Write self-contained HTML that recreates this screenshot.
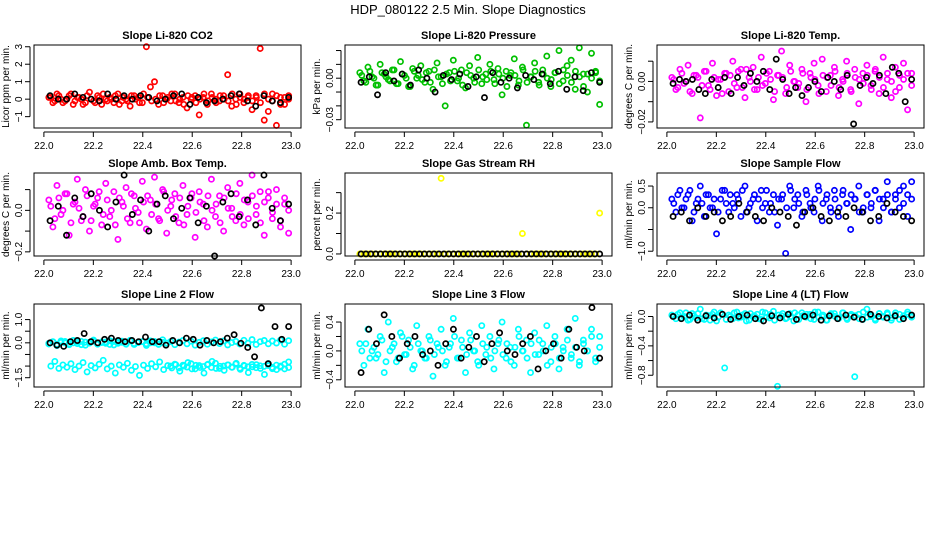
<!DOCTYPE html>
<html><head><meta charset="utf-8"><style>
body{margin:0;background:#fff}
svg{display:block;font-family:"Liberation Sans",sans-serif}
</style></head><body>
<svg id="c" width="936" height="540" viewBox="0 0 936 540">
<rect width="936" height="540" fill="#fff"/>
<text x="468" y="14" text-anchor="middle" font-size="13">HDP_080122  2.5 Min. Slope Diagnostics</text>
</svg>
<script>
const xTicks=[22.0,22.2,22.4,22.6,22.8,23.0];
const co2Col=[0.1,-0.2,0.3,0.0,-0.1,0.2,-0.3,0.1,0.0,-0.2,0.4,-0.1,0.2,-0.3,0.0,0.1,-0.2,0.3,-0.1,0.0,-0.4,0.2,0.1,-0.2,3.0,0.7,1.0,-0.3,0.2,0.0,-0.1,0.3,-0.2,0.1,-0.5,0.0,0.2,-0.9,0.1,-0.3,0.3,0.0,-0.1,0.2,1.4,-0.4,0.0,0.3,-0.2,0.1,-0.6,0.2,2.9,-1.2,-0.7,0.3,-1.5,0.1,-0.3,0.2];
const co2Core=[0.1,-0.1,0.2,-0.2,0.0,0.3,-0.1,0.1,-0.3,0.2,0.0,-0.2,0.1,0.3,-0.1,0.0,0.2,-0.3,0.1,-0.1,0.2,0.0,-0.2,0.3,0.1,-0.1,0.0,0.2,-0.2,0.1,0.3,-0.1,0.0,-0.3,0.2,0.1,-0.2,0.0,0.3,-0.1,0.1,-0.2,0.2,0.0,-0.1,0.3,-0.3,0.1,0.0,0.2,-0.1,0.1,-0.2,0.3,0.0,-0.1,0.2,-0.3,0.1,0.0];
const co2Blk=[0.2,0.0,0.0,0.3,0.1,0.0,-0.1,0.3,0.0,0.2,0.0,0.2,0.1,-0.1,0.0,0.2,0.3,-0.3,0.1,-0.2,-0.1,0.0,0.2,0.3,-0.1,-0.4,0.2,-0.1,-0.2,0.1];
const presCol=[0.004,-0.002,0.008,0.001,-0.005,0.010,0.003,-0.001,0.006,-0.004,0.012,0.002,-0.006,0.007,0.000,0.009,-0.003,0.005,-0.008,0.011,0.001,-0.020,0.004,0.013,-0.002,0.006,-0.007,0.009,0.000,0.015,-0.004,0.003,0.010,-0.001,0.007,-0.012,0.005,0.002,0.014,-0.005,0.008,-0.034,0.001,0.011,-0.003,0.006,0.016,-0.006,0.004,0.020,-0.002,0.009,0.013,-0.008,0.022,0.003,-0.010,0.018,0.005,-0.019];
const presCore=[0.002,-0.003,0.005,0.000,-0.005,0.004,0.001,-0.002,0.006,-0.004,0.003,0.000,-0.006,0.005,0.002,-0.001,0.004,-0.003,0.006,0.001,-0.004,0.003,-0.002,0.005,0.000,-0.005,0.004,0.002,-0.003,0.006,0.001,-0.001,0.005,-0.004,0.003,0.000,-0.006,0.004,0.002,-0.002,0.006,-0.003,0.001,0.005,-0.005,0.003,0.000,-0.001,0.004,-0.004,0.006,0.002,-0.003,0.005,0.001,-0.006,0.003,0.000,0.004,-0.002];
const presBlk=[-0.003,0.001,-0.012,0.004,-0.002,0.003,-0.005,0.006,0.000,-0.010,0.002,-0.001,0.003,-0.006,0.001,-0.014,0.004,-0.003,0.000,-0.007,0.002,-0.001,0.003,-0.004,0.005,-0.008,0.001,-0.009,0.004,-0.003];
const tempCol=[0.002,-0.004,0.006,-0.001,0.008,-0.006,0.003,-0.018,0.005,-0.002,0.009,-0.007,0.001,0.004,-0.005,0.010,-0.003,0.006,-0.008,0.002,0.007,-0.004,0.012,-0.001,0.005,-0.009,0.003,0.015,-0.006,0.008,0.000,-0.003,0.006,-0.010,0.004,0.009,-0.002,0.011,-0.005,0.003,0.007,-0.007,0.001,0.010,-0.004,0.006,-0.011,0.004,0.008,-0.002,0.005,-0.006,0.012,0.001,-0.008,0.007,-0.003,0.009,-0.014,0.004];
const tempCore=[0.001,-0.003,0.004,0.000,-0.005,0.003,0.002,-0.002,0.005,-0.004,0.002,0.001,-0.006,0.004,0.003,-0.001,0.005,-0.003,0.006,0.000,-0.004,0.002,-0.002,0.004,0.001,-0.005,0.003,0.002,-0.003,0.005,0.000,-0.001,0.004,-0.004,0.002,0.001,-0.006,0.003,0.002,-0.002,0.005,-0.003,0.000,0.004,-0.005,0.002,0.001,-0.001,0.003,-0.004,0.006,0.002,-0.003,0.004,0.000,-0.005,0.003,0.001,0.004,-0.002];
const tempBlk=[-0.001,0.001,0.000,0.001,-0.004,-0.006,0.001,-0.003,0.002,-0.006,0.002,-0.002,0.004,0.000,0.005,-0.004,0.011,0.001,-0.006,-0.003,-0.007,-0.003,0.000,-0.005,0.002,0.000,-0.004,0.003,-0.021,-0.002,0.002,-0.001,0.003,-0.006,0.007,0.004,-0.010,0.001];
const ambCol=[0.05,-0.08,0.12,-0.02,0.08,-0.12,0.03,0.15,-0.05,0.10,-0.10,0.02,0.06,-0.07,0.13,-0.03,0.09,-0.14,0.04,0.11,-0.06,0.07,-0.01,0.14,-0.09,0.05,0.16,-0.04,0.10,-0.11,0.02,0.08,-0.06,0.12,-0.02,0.06,-0.13,0.09,0.03,-0.08,0.15,-0.03,0.07,-0.10,0.11,0.01,-0.05,0.13,-0.07,0.04,0.17,-0.02,0.09,-0.12,0.06,-0.04,0.10,-0.08,0.03,-0.11];
const ambCore=[0.02,-0.04,0.06,0.00,0.08,-0.06,0.04,0.01,-0.03,0.07,-0.05,0.03,0.09,-0.02,0.05,0.00,-0.07,0.06,0.02,-0.04,0.08,0.01,-0.06,0.04,0.07,-0.02,0.03,-0.05,0.09,0.00,0.05,-0.03,0.06,-0.07,0.02,0.08,-0.01,0.04,-0.05,0.07,0.00,0.03,-0.06,0.06,0.01,-0.03,0.08,-0.02,0.05,-0.04,0.07,0.02,-0.06,0.04,0.09,-0.01,0.03,-0.05,0.06,0.00];
const ambBlk=[-0.05,0.02,-0.12,0.06,-0.03,0.08,0.00,-0.08,0.04,0.17,-0.02,0.05,-0.10,0.03,0.07,-0.04,0.01,0.06,-0.06,0.02,-0.22,0.04,0.08,-0.03,0.05,-0.07,0.17,0.01,-0.05,0.03];
const rhCol=[0,0,0,0,0,0,0,0,0,0,0,0,0,0,0,0,0,0,0,0,0.37,0,0,0,0,0,0,0,0,0,0,0,0,0,0,0,0,0,0,0,0.10,0,0,0,0,0,0,0,0,0,0,0,0,0,0,0,0,0,0,0.20];
const rhBlk=[0,0,0,0,0,0,0,0,0,0,0,0,0,0,0,0,0,0,0,0,0,0,0,0,0,0,0,0,0,0,0,0,0,0,0,0,0,0,0,0,0,0,0,0,0,0,0,0,0,0];
const sfCol=[0.2,-0.1,0.4,0.0,0.3,-0.3,0.1,0.5,-0.2,0.3,0.0,-0.6,0.2,0.4,-0.1,0.1,0.3,-0.2,0.5,0.0,0.2,-0.3,0.4,0.1,-0.1,0.3,-0.4,0.2,-1.05,0.5,0.0,0.3,-0.2,0.4,0.1,-0.1,0.5,-0.3,0.2,0.0,0.4,-0.2,0.3,0.1,-0.5,0.2,0.5,-0.1,0.3,0.0,0.4,-0.3,0.2,0.6,-0.1,0.3,0.0,0.5,-0.2,0.6];
const sfCore=[0.1,0.3,0.0,0.2,0.4,-0.1,0.2,0.1,0.3,0.0,0.2,-0.1,0.4,0.1,0.3,0.0,0.2,0.4,-0.1,0.1,0.3,0.2,0.0,0.4,0.1,-0.1,0.2,0.3,0.0,0.4,0.2,0.1,-0.1,0.3,0.0,0.2,0.4,0.1,0.3,-0.1,0.2,0.0,0.4,0.1,0.3,0.2,-0.1,0.0,0.3,0.1,0.4,0.2,0.0,0.3,-0.1,0.2,0.4,0.1,0.3,0.2];
const sfBlk=[-0.2,-0.1,-0.3,0.0,-0.2,-0.1,-0.3,-0.2,0.1,-0.1,-0.2,-0.3,0.0,-0.1,-0.2,-0.4,-0.1,0.0,-0.2,-0.3,-0.1,-0.2,0.0,-0.1,-0.3,-0.2,0.1,-0.1,-0.2,-0.3];
const l2Up=[-0.05,0.05,-0.12,0.08,0.00,-0.08,0.10,-0.03,0.06,-0.10,0.02,0.12,-0.06,0.04,-0.02,0.09,-0.09,0.03,0.07,-0.04,0.11,-0.07,0.01,0.05,-0.11,0.08,0.00,-0.05,0.13,-0.02,0.06,-0.08,0.03,0.10,-0.04,0.07,-0.10,0.02,0.09,-0.06,0.04,0.12,-0.03,0.08,-0.09,0.01,0.06,-0.05,0.11,-0.02,0.14,-0.07,0.05,0.10,-0.04,0.08,-0.01,0.12,-0.06,0.09];
const l2Lo=[-1.00,-0.80,-1.10,-0.95,-1.05,-0.90,-1.15,-1.00,-0.85,-1.25,-0.98,-1.08,-0.92,-0.75,-1.12,-1.00,-1.30,-0.95,-1.05,-0.88,-1.18,-1.02,-1.40,-0.96,-1.10,-0.90,-1.03,-0.82,-1.15,-0.98,-1.08,-0.94,-1.22,-1.00,-0.85,-1.12,-0.97,-1.06,-1.30,-0.92,-0.80,-1.10,-1.01,-1.18,-0.95,-1.05,-0.88,-1.14,-0.99,-1.28,-1.03,-0.94,-1.10,-1.36,-0.98,-1.06,-1.15,-1.00,-1.12,-0.82];
const l2Core=[-0.02,0.04,-0.06,0.02,0.06,-0.04,0.00,0.05,-0.08,0.03,-0.01,0.07,-0.05,0.01,0.04,-0.07,0.06,-0.02,0.02,-0.06,0.08,-0.03,0.03,0.05,-0.04,0.00,0.06,-0.07,0.02,-0.01,-1.00,-0.92,-1.08,-0.96,-1.04,-0.90,-1.12,-0.98,-1.02,-0.94,-1.06,-0.88,-1.10,-1.00,-0.95,-1.05,-0.91,-1.09,-0.97,-1.03,-0.93,-1.07,-0.99,-1.01,-0.89,-1.11,-0.96,-1.04,-0.92,-1.06];
const l2Blk=[0.00,-0.10,-0.15,0.05,0.10,0.40,0.05,0.00,0.15,0.20,0.10,0.05,0.10,0.05,0.25,0.05,0.05,-0.10,0.10,0.00,0.20,0.15,-0.10,0.10,0.00,0.05,0.20,0.35,-0.02,-0.20,-0.60,1.50,-0.90,0.70,0.15,0.70];
const l3Col=[0.1,-0.2,0.3,0.0,-0.1,0.2,-0.3,0.4,0.05,-0.15,0.25,-0.05,0.15,-0.25,0.35,0.0,-0.1,0.2,-0.35,0.1,0.3,-0.2,0.05,0.45,-0.1,0.15,-0.3,0.25,0.0,-0.15,0.35,-0.05,0.2,-0.25,0.1,0.4,-0.1,0.05,-0.2,0.3,0.0,0.15,-0.3,0.25,-0.05,0.1,0.35,-0.15,0.2,-0.25,0.05,0.3,-0.1,0.45,-0.2,0.15,0.0,0.3,-0.15,0.2];
const l3Core=[0.0,0.1,-0.1,0.05,-0.05,0.15,-0.15,0.0,0.1,-0.1,0.2,-0.05,0.05,-0.2,0.1,0.0,-0.1,0.15,-0.05,0.05,0.0,-0.15,0.1,0.2,-0.1,0.05,-0.05,0.15,0.0,-0.2,0.1,0.05,-0.1,0.0,0.15,-0.05,0.1,-0.15,0.05,0.2,0.0,-0.1,0.1,-0.05,0.15,0.0,-0.2,0.05,0.1,-0.1,0.0,0.15,-0.05,0.05,-0.15,0.1,0.0,0.2,-0.1,0.05];
const l3Blk=[-0.3,0.3,0.1,0.5,0.2,-0.1,0.1,0.2,-0.05,0.0,-0.2,0.1,0.3,-0.1,0.05,0.2,-0.15,0.1,0.25,0.0,-0.05,0.1,0.2,-0.25,0.0,0.1,-0.1,0.3,0.05,0.0,0.6,-0.1];
const l4Col=[0.02,-0.03,0.05,0.00,-0.05,0.04,-0.02,0.10,-0.04,0.01,0.03,-0.06,0.05,-0.70,0.02,-0.03,0.06,-0.01,0.04,-0.05,0.00,0.03,-0.04,0.05,-0.02,0.07,-0.95,0.01,-0.03,0.04,-0.06,0.02,0.05,-0.01,0.03,-0.04,0.06,0.00,-0.05,0.02,0.04,-0.03,0.05,-0.02,0.01,-0.82,0.03,-0.04,0.10,0.00,-0.03,0.04,-0.01,0.05,-0.05,0.02,0.03,-0.02,0.06,0.01];
const l4Core=[0.00,0.03,-0.02,0.05,-0.04,0.01,0.04,-0.03,0.02,-0.05,0.06,-0.01,0.03,-0.04,0.00,0.05,-0.02,0.02,-0.06,0.04,0.01,-0.03,0.06,-0.01,0.03,-0.05,0.02,0.04,-0.02,0.00,0.05,-0.04,0.01,0.03,-0.03,0.06,-0.01,0.02,-0.05,0.04,0.00,-0.02,0.05,-0.04,0.03,0.01,-0.03,0.06,-0.01,0.02,-0.05,0.04,0.00,0.03,-0.02,0.05,-0.04,0.01,0.03,-0.01];
const l4Blk=[0.00,-0.03,0.02,-0.05,0.01,-0.02,0.03,-0.04,0.00,0.02,-0.03,-0.06,0.01,-0.02,0.03,-0.04,0.00,0.02,-0.05,0.01,-0.03,0.02,-0.01,-0.04,0.03,0.00,-0.02,0.01,-0.03,0.02];

const panels=[
 {name:'co2',title:'Slope Li-820 CO2',ylab:'Licor ppm per min.',col:0,row:0,ymin:-1.65,ymax:3.1,ticks:[-1,0,1,2,3],labels:['\u22121','0','1','2','3'],color:'#ff0000',series:[co2Col,co2Core],black:co2Blk},
 {name:'pressure',title:'Slope Li-820 Pressure',ylab:'kPa per min.',col:1,row:0,ymin:-0.036,ymax:0.024,ticks:[-0.03,-0.02,-0.01,0,0.01,0.02],labels:['\u22120.03','','','0.00','',''],color:'#00c000',series:[presCol,presCore],black:presBlk},
 {name:'temp',title:'Slope Li-820 Temp.',ylab:'degrees C per min.',col:2,row:0,ymin:-0.023,ymax:0.018,ticks:[-0.02,-0.01,0,0.01],labels:['\u22120.02','','0.00',''],color:'#ff00ff',series:[tempCol,tempCore],black:tempBlk},
 {name:'ambient-box-temp',title:'Slope Amb. Box Temp.',ylab:'degrees C per min.',col:0,row:1,ymin:-0.22,ymax:0.18,ticks:[-0.2,-0.1,0,0.1],labels:['\u22120.2','','0.0',''],color:'#ff00ff',series:[ambCol,ambCore],black:ambBlk},
 {name:'gas-stream-rh',title:'Slope Gas Stream RH',ylab:'percent per min.',col:1,row:1,ymin:-0.01,ymax:0.396,ticks:[0,0.1,0.2,0.3],labels:['0.0','','0.2',''],color:'#ffff00',series:[rhCol],black:rhBlk},
 {name:'sample-flow',title:'Slope Sample Flow',ylab:'ml/min per min.',col:2,row:1,ymin:-1.11,ymax:0.8,ticks:[-1,-0.5,0,0.5],labels:['\u22121.0','','0.0','0.5'],color:'#0000ff',series:[sfCol,sfCore],black:sfBlk},
 {name:'line2-flow',title:'Slope Line 2 Flow',ylab:'ml/min per min.',col:0,row:2,ymin:-1.9,ymax:1.67,ticks:[-1.5,-1,-0.5,0,0.5,1],labels:['\u22121.5','','','0.0','','1.0'],color:'#00ffff',series:[l2Up,l2Lo,l2Core],black:l2Blk},
 {name:'line3-flow',title:'Slope Line 3 Flow',ylab:'ml/min per min.',col:1,row:2,ymin:-0.5,ymax:0.65,ticks:[-0.4,-0.2,0,0.2,0.4],labels:['\u22120.4','','0.0','','0.4'],color:'#00ffff',series:[l3Col,l3Core],black:l3Blk},
 {name:'line4-flow',title:'Slope Line 4 (LT) Flow',ylab:'ml/min per min.',col:2,row:2,ymin:-0.96,ymax:0.17,ticks:[-0.8,-0.6,-0.4,-0.2,0],labels:['\u22120.8','','\u22120.4','','0.0'],color:'#00ffff',series:[l4Col,l4Core],black:l4Blk}
];
const colL=[34,345,657], rowT=[45,173,304], W=267, H=83, XMIN=21.96, XMAX=23.04;
const svg=document.getElementById('c'), NS='http://www.w3.org/2000/svg';
function mk(tag,at,parent){const e=document.createElementNS(NS,tag);for(const k in at)e.setAttribute(k,at[k]);(parent||svg).appendChild(e);return e;}
panels.forEach(p=>{
 const L=colL[p.col],T=rowT[p.row];
 const g=mk('g',{});
 
 
 const sx=v=>L+(v-XMIN)/(XMAX-XMIN)*W;
 const sy=v=>T+H-(v-p.ymin)/(p.ymax-p.ymin)*H;
 const t=mk('text',{x:L+W/2,y:T-6,'text-anchor':'middle','font-size':'11','font-weight':'bold'},g);t.textContent=p.title;
 
 
 const drawPts=(arr,color,nm,off)=>{arr.forEach((v,i)=>{const x=22.02+off+i*((0.97-off)/(arr.length-1));
  const c=mk('circle',{cx:sx(x),cy:sy(v),r:2.6,fill:'none',stroke:color,'stroke-width':1.7},g);
  
  });};
 p.series.forEach((s,k)=>drawPts(s,p.color,'point',k===1?0.008:0));
 drawPts(p.black,'#000','point-black',0.005);
 const box=mk('rect',{x:L,y:T,width:W,height:H,fill:'none',stroke:'#000','stroke-width':1},g);
 
 
 const xa=mk('g',{},g);
 
 
 mk('line',{x1:sx(22),x2:sx(23),y1:T+H+4,y2:T+H+4,stroke:'#000'},xa);
 xTicks.forEach(v=>{mk('line',{x1:sx(v),x2:sx(v),y1:T+H+4,y2:T+H+9,stroke:'#000'},xa);
  const tx=mk('text',{x:sx(v),y:T+H+21,'text-anchor':'middle','font-size':'10'},xa);tx.textContent=v.toFixed(1);});
 const ya=mk('g',{},g);
 
 
 mk('line',{x1:L-4,x2:L-4,y1:sy(p.ticks[0]),y2:sy(p.ticks[p.ticks.length-1]),stroke:'#000'},ya);
 p.ticks.forEach((v,i)=>{mk('line',{x1:L-4,x2:L-9,y1:sy(v),y2:sy(v),stroke:'#000'},ya);
  if(p.labels[i]){const tx=mk('text',{x:L-12,y:sy(v),'text-anchor':'middle','font-size':'10',transform:'rotate(-90 '+(L-12)+' '+sy(v)+')'},ya);tx.textContent=p.labels[i];}});
 const yl=mk('text',{x:L-25,y:T+H/2,'text-anchor':'middle','font-size':'10',transform:'rotate(-90 '+(L-25)+' '+(T+H/2)+')'},ya);yl.textContent=p.ylab;
 
 
});
</script>
</body></html>
